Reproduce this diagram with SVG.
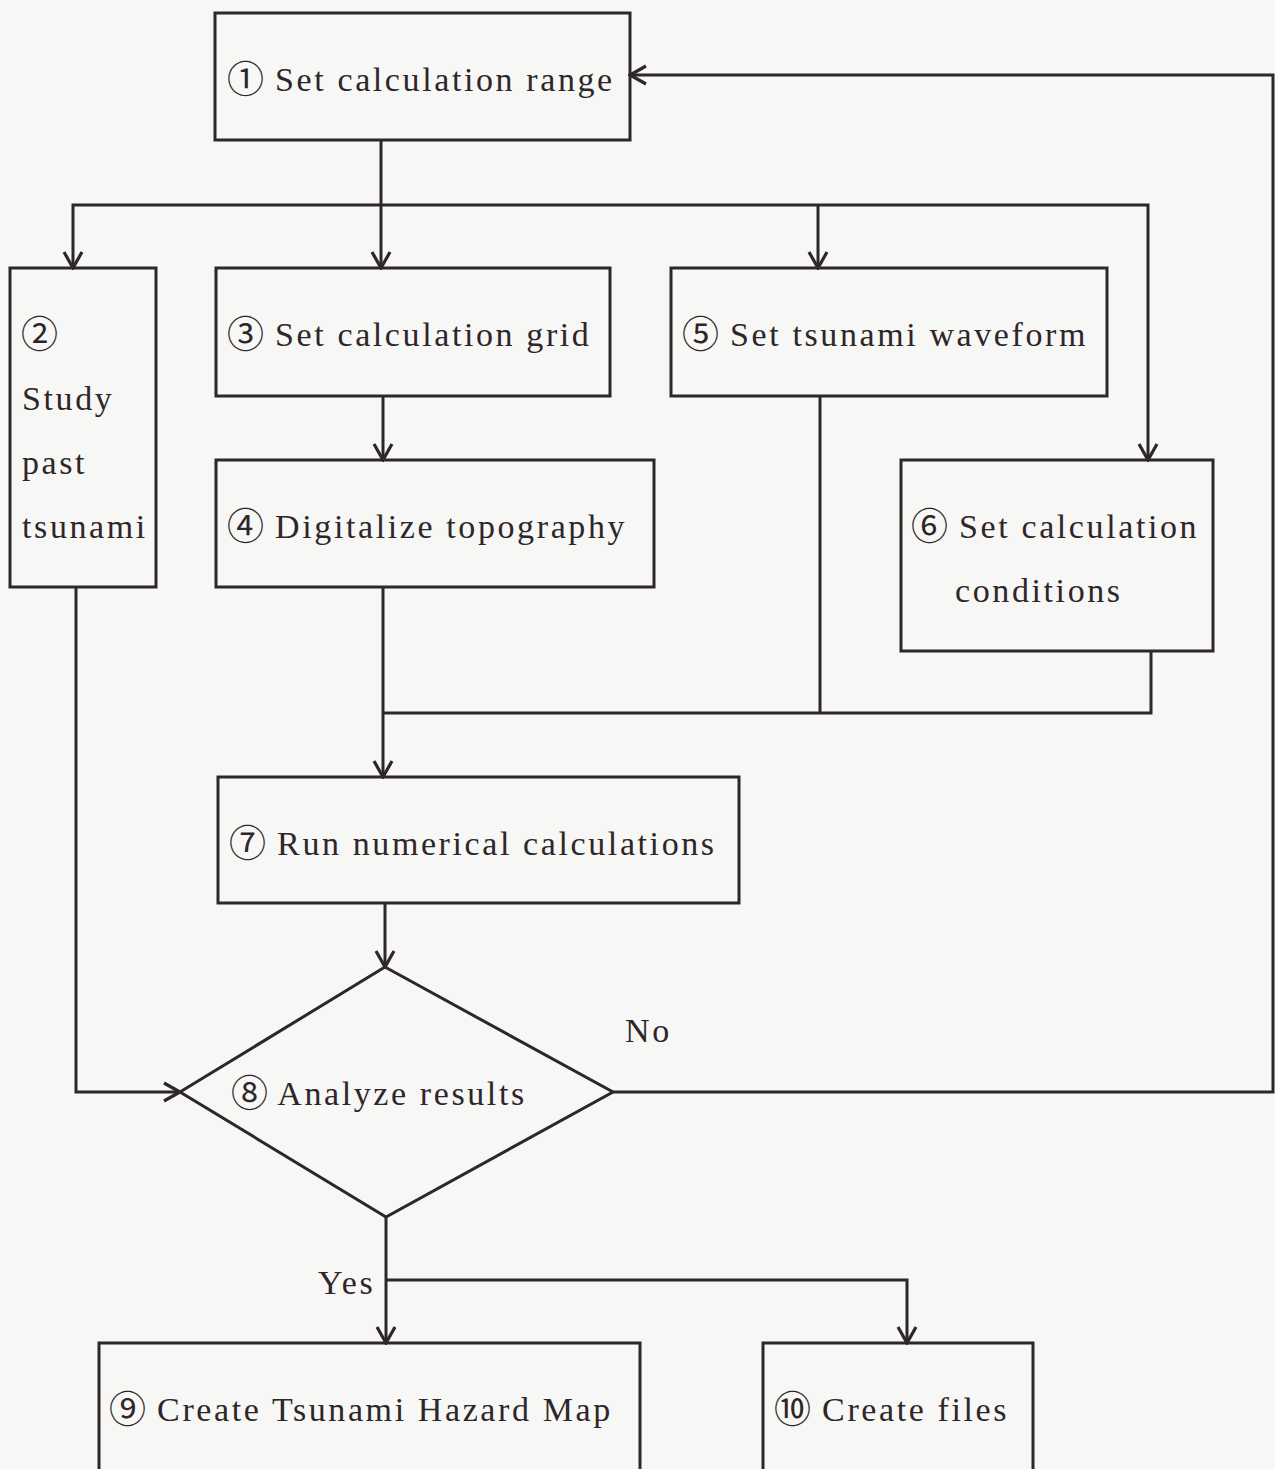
<svg xmlns="http://www.w3.org/2000/svg" width="1275" height="1469" viewBox="0 0 1275 1469">
  <defs>
    <marker id="arr" viewBox="0 0 22 22" refX="20" refY="11" markerWidth="22" markerHeight="22" markerUnits="userSpaceOnUse" orient="auto-start-reverse">
      <path d="M4,2 L20,11 L4,20" fill="none" stroke="#2e2628" stroke-width="3.2"/>
    </marker>
  </defs>
  <style>
    .box { fill: none; stroke: #2e2628; stroke-width: 3; }
    .ln { fill: none; stroke: #2e2628; stroke-width: 3; }
    text { font-family: "Liberation Serif", "Noto Sans CJK JP", serif; font-size: 34px; fill: #2e2628; letter-spacing: 2.6px; }
    .cd { font-size: 37px; letter-spacing: 0; }
  </style>
  <rect width="1275" height="1469" fill="#f7f7f5"/>

  <g id="connectors">
    <!-- "No" loop back to step 1 -->
    <path class="ln" d="M630,75 L1273,75 L1273,1092 L613,1092" marker-start="url(#arr)"/>
    <path class="ln" d="M381,140 L381,268" marker-end="url(#arr)"/>
    <path class="ln" d="M73,268 L73,205 L1148,205 L1148,460" marker-start="url(#arr)" marker-end="url(#arr)"/>
    <path class="ln" d="M818,205 L818,268" marker-end="url(#arr)"/>
    <path class="ln" d="M383,396 L383,460" marker-end="url(#arr)"/>
    <path class="ln" d="M383,587 L383,777" marker-end="url(#arr)"/>
    <path class="ln" d="M820,396 L820,713"/>
    <path class="ln" d="M383,713 L1151,713 L1151,651"/>
    <path class="ln" d="M385,903 L385,967" marker-end="url(#arr)"/>
    <path class="ln" d="M76,587 L76,1092 L180,1092" marker-end="url(#arr)"/>
    <path class="ln" d="M386,1217 L386,1343" marker-end="url(#arr)"/>
    <path class="ln" d="M386,1280 L907,1280 L907,1343" marker-end="url(#arr)"/>
    <text x="625" y="1042">No</text>
    <text x="318" y="1294">Yes</text>
  </g>

  <g id="n1">
    <rect class="box" x="215" y="13" width="415" height="127"/>
    <text x="227" y="91"><tspan class="cd" dy="2">①</tspan><tspan dy="-2"> Set calculation range</tspan></text>
  </g>
  <g id="n2">
    <rect class="box" x="10" y="268" width="146" height="319"/>
    <text x="21" y="348"><tspan class="cd">②</tspan></text>
    <text x="22" y="410">Study</text>
    <text x="22" y="474">past</text>
    <text x="22" y="538">tsunami</text>
  </g>
  <g id="n3">
    <rect class="box" x="216" y="268" width="394" height="128"/>
    <text x="227" y="346"><tspan class="cd" dy="2">③</tspan><tspan dy="-2"> Set calculation grid</tspan></text>
  </g>
  <g id="n4">
    <rect class="box" x="216" y="460" width="438" height="127"/>
    <text x="227" y="538"><tspan class="cd" dy="2">④</tspan><tspan dy="-2"> Digitalize topography</tspan></text>
  </g>
  <g id="n5">
    <rect class="box" x="671" y="268" width="436" height="128"/>
    <text x="682" y="346"><tspan class="cd" dy="2">⑤</tspan><tspan dy="-2"> Set tsunami waveform</tspan></text>
  </g>
  <g id="n6">
    <rect class="box" x="901" y="460" width="312" height="191"/>
    <text x="911" y="538"><tspan class="cd" dy="2">⑥</tspan><tspan dy="-2"> Set calculation</tspan></text>
    <text x="955" y="602">conditions</text>
  </g>
  <g id="n7">
    <rect class="box" x="218" y="777" width="521" height="126"/>
    <text x="229" y="855"><tspan class="cd" dy="2">⑦</tspan><tspan dy="-2"> Run numerical calculations</tspan></text>
  </g>
  <g id="n8">
    <polygon class="box" points="385,967 613,1092 386,1217 180,1092"/>
    <text x="231" y="1105"><tspan class="cd" dy="2">⑧</tspan><tspan dy="-2"> Analyze results</tspan></text>
  </g>
  <g id="n9">
    <rect class="box" x="99" y="1343" width="541" height="140"/>
    <text x="109" y="1421"><tspan class="cd" dy="2">⑨</tspan><tspan dy="-2"> Create Tsunami Hazard Map</tspan></text>
  </g>
  <g id="n10">
    <rect class="box" x="763" y="1343" width="270" height="140"/>
    <text x="774" y="1421"><tspan class="cd" dy="2">⑩</tspan><tspan dy="-2"> Create files</tspan></text>
  </g>
</svg>
